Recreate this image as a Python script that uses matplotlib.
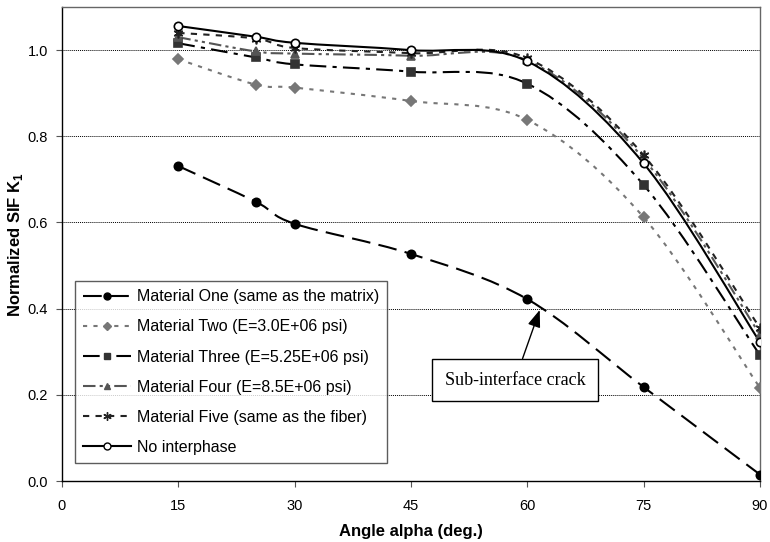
import numpy as np
import matplotlib
matplotlib.use('Agg')
import matplotlib.pyplot as plt
from matplotlib.path import Path
from matplotlib.patches import PathPatch
from matplotlib.lines import Line2D

plt.rcParams['font.family'] = ['Liberation Sans', 'DejaVu Sans']
plt.rcParams['mathtext.fontset'] = 'custom'
plt.rcParams['mathtext.rm'] = 'Liberation Sans'
plt.rcParams['mathtext.bf'] = 'Liberation Sans:bold'

# angles (deg.)
angles = [15, 25, 30, 45, 60, 75, 90]

# normalized SIF K1 for each material
mat_one = [0.731, 0.648, 0.597, 0.527, 0.422, 0.218, 0.015]
mat_two = [0.979, 0.920, 0.913, 0.882, 0.838, 0.612, 0.216]
mat_three = [1.016, 0.983, 0.967, 0.950, 0.922, 0.687, 0.292]
mat_four = [1.030, 0.997, 0.992, 0.987, 0.976, 0.748, 0.340]
mat_five = [1.040, 1.027, 1.005, 0.993, 0.981, 0.756, 0.355]
no_interphase = [1.056, 1.031, 1.017, 1.000, 0.974, 0.737, 0.322]

labels = ['Material One (same as the matrix)',
          'Material Two (E=3.0E+06 psi)',
          'Material Three (E=5.25E+06 psi)',
          'Material Four (E=8.5E+06 psi)',
          'Material Five (same as the fiber)',
          'No interphase']

x_ticks = [0, 15, 30, 45, 60, 75, 90]
y_ticks = [0.0, 0.2, 0.4, 0.6, 0.8, 1.0]


def smooth_path(x, y):
    # Excel style smoothed line: cubic bezier through every point
    x = np.asarray(x, float)
    y = np.asarray(y, float)
    pts = np.column_stack([x, y])
    verts = [pts[0]]
    codes = [Path.MOVETO]
    n = len(pts)
    for i in range(n - 1):
        p0 = pts[i - 1] if i > 0 else pts[i]
        p1 = pts[i]
        p2 = pts[i + 1]
        p3 = pts[i + 2] if i + 2 < n else pts[i + 1]
        c1 = p1 + (p2 - p0) / 6.0
        c2 = p2 - (p3 - p1) / 6.0
        verts += [c1, c2, p2]
        codes += [Path.CURVE4] * 3
    return Path(verts, codes)


styles = [
    dict(color='black', ls=(0, (9, 4)), marker='o', mfc='black', mec='black', ms=6),
    dict(color='#777777', ls=(0, (2, 3)), marker='D', mfc='#777777', mec='#777777', ms=5),
    dict(color='black', ls=(0, (8, 3, 2, 3)), marker='s', mfc='#333333', mec='#333333', ms=6),
    dict(color='#555555', ls=(0, (6, 2, 1.5, 2, 1.5, 2)), marker='^', mfc='#555555', mec='#555555', ms=6),
    dict(color='#222222', ls=(0, (3, 3)), marker=(6, 2, 0), mfc='#222222', mec='#222222', ms=7),
    dict(color='black', ls='-', marker='o', mfc='white', mec='black', ms=6),
]
series = [mat_one, mat_two, mat_three, mat_four, mat_five, no_interphase]

fig = plt.figure(figsize=(7.7, 5.42), dpi=100)
ax = fig.add_axes([0.0805, 0.1125, 0.9065, 0.8745])

handles = []
for vals, st, lab in zip(series, styles, labels):
    patch = PathPatch(smooth_path(angles, vals), fill=False, edgecolor=st['color'],
                      linestyle=st['ls'], linewidth=1.5, zorder=3)
    ax.add_patch(patch)
    ax.plot(angles, vals, linestyle='none', marker=st['marker'], markerfacecolor=st['mfc'],
            markeredgecolor=st['mec'], markersize=st['ms'], markeredgewidth=1.2, zorder=4)
    handles.append(Line2D([], [], color=st['color'], linestyle=st['ls'], linewidth=1.5,
                          marker=st['marker'], markerfacecolor=st['mfc'],
                          markeredgecolor=st['mec'], markersize=st['ms'] - 1))

ax.set_xlim(0, 90)
ax.set_ylim(0, 1.1)
ax.set_xticks(x_ticks)
ax.set_yticks(y_ticks)
ax.set_yticklabels(['%.1f' % v for v in y_ticks])
ax.tick_params(direction='out', labelsize=10.5, length=4, color='#555555')
ax.tick_params(axis='x', pad=9)
ax.tick_params(axis='y', pad=6)
for s in ax.spines.values():
    s.set_color('#666666')
    s.set_linewidth(1.0)
ax.spines['left'].set_color('black')
ax.spines['bottom'].set_color('black')

for v in y_ticks[1:]:
    ax.axhline(v, color='black', linestyle=(0, (1, 1)), linewidth=0.7, zorder=1)

ax.set_xlabel('Angle alpha (deg.)', fontsize=12, fontweight='bold', labelpad=8)
ax.set_ylabel('Normalized SIF K$_{\\mathbf{1}}$', fontsize=12, fontweight='bold')
ax.yaxis.set_label_coords(-0.053, 0.5)

leg = ax.legend(handles, labels, loc='lower left', bbox_to_anchor=(0.0186, 0.038),
                fontsize=11.5, frameon=True, fancybox=False, edgecolor='#333333',
                handlelength=3.0, labelspacing=0.95, borderpad=0.5, handletextpad=0.4,
                borderaxespad=0)
leg.get_frame().set_linewidth(1.0)
leg.set_zorder(6)

ax.annotate('Sub-interface crack', xy=(61.6, 0.397), xytext=(58.4, 0.234),
            ha='center', va='center', fontsize=13, family=['Liberation Serif'],
            bbox=dict(boxstyle='square,pad=0.7', facecolor='white', edgecolor='black', linewidth=1.0),
            arrowprops=dict(arrowstyle='-|>,head_length=0.8,head_width=0.3', color='black',
                            linewidth=1.0, shrinkA=0, shrinkB=0),
            zorder=7)

fig.savefig('out.png', dpi=100)
